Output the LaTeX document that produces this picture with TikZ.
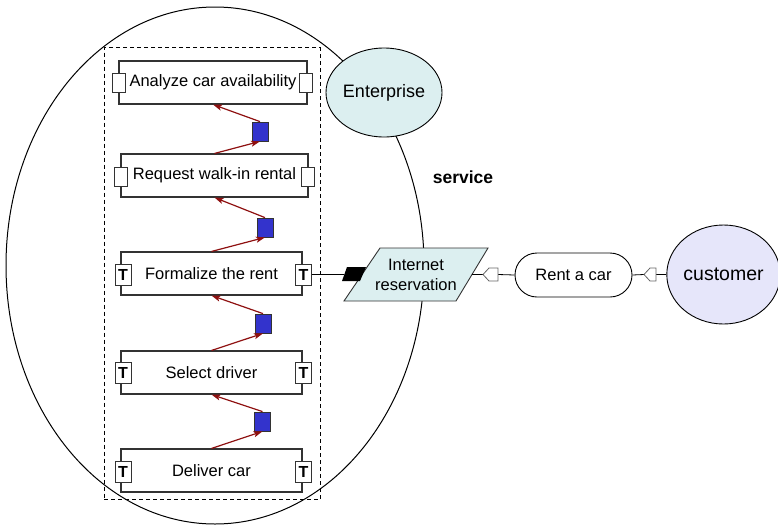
\documentclass[tikz,border=0pt]{standalone}
\usepackage{fontspec}
\setmainfont{Liberation Sans}
\usetikzlibrary{shapes.geometric,arrows.meta,calc}
\definecolor{arrowred}{HTML}{8E1010}
\definecolor{sqblue}{HTML}{3333CC}
\definecolor{lcyan}{HTML}{DCEFF0}
\definecolor{lav}{HTML}{E6E6FA}
\definecolor{edge}{HTML}{333333}
\tikzset{
  txt/.style={font=\fontsize{16.5}{19.5}\selectfont},
  actbox/.style={draw=edge, line width=1.1pt, fill=white, inner sep=0pt, txt},
  eport/.style={draw=edge, line width=0.9pt, fill=white, minimum width=13pt, minimum height=19pt, inner sep=0pt},
  tport/.style={draw=edge, line width=0.9pt, fill=white, minimum width=16pt, minimum height=21pt, inner sep=0pt, font=\fontsize{16}{16}\selectfont\bfseries},
  bsq/.style={draw=edge, line width=0.8pt, fill=sqblue, minimum width=16pt, minimum height=19pt, inner sep=0pt},
  flow/.style={draw=arrowred, line width=1.2pt, -{Stealth[length=9pt,width=6pt,inset=2pt]}},
  marker/.style={draw=gray!80!black, line width=0.8pt, fill=white},
  link/.style={draw=black, line width=0.8pt},
}
\begin{document}
\begin{tikzpicture}[x=1pt,y=-1pt]
\useasboundingbox (0,0) rectangle (778,525);
% big service ellipse
\node (svc) [ellipse, draw=black, line width=1pt, minimum width=418pt, minimum height=517pt, inner sep=0pt] at (215,265.5) {};
% group
\node (grp) [draw=black, line width=0.8pt, dash pattern=on 4pt off 3pt, minimum width=216pt, minimum height=452pt, inner sep=0pt] at (212,273.5) {};
% activity boxes
\node (A) [actbox, minimum width=188pt, minimum height=43pt] at (213,82.5) {Analyze car availability};
\node (R) [actbox, minimum width=187pt, minimum height=43pt] at (214.5,175.5) {Request walk-in rental};
\node (F) [actbox, minimum width=181pt, minimum height=43pt] at (211.5,273.5) {Formalize the rent};
\node (S) [actbox, minimum width=181pt, minimum height=43pt] at (211.5,372.5) {Select driver};
\node (D) [actbox, minimum width=181pt, minimum height=43pt] at (211.5,470.5) {Deliver car};
% ports
\node (Al) [eport] at (118.5,82.5) {};
\node (Ar) [eport] at (306,82.5) {};
\node (Rl) [eport] at (120.5,176.5) {};
\node (Rr) [eport] at (307.5,176.5) {};
\node (Fl) [tport] at (123,274.5) {T};
\node (Fr) [tport] at (303.5,274.5) {T};
\node (Sl) [tport] at (123,373) {T};
\node (Sr) [tport] at (303.5,373) {T};
\node (Dl) [tport] at (123,472) {T};
\node (Dr) [tport] at (303.5,472) {T};
% blue squares
\node (q1) [bsq] at (260,131.5) {};
\node (q2) [bsq] at (265,227.5) {};
\node (q3) [bsq] at (263,323.5) {};
\node (q4) [bsq] at (262.5,421.5) {};
% flows
\draw[flow] (R.north) -- (q1.south);
\draw[flow] (q1.north) -- (A.south);
\draw[flow] (F.north) -- (q2.south);
\draw[flow] (q2.north) -- (R.south);
\draw[flow] (S.north) -- (q3.south);
\draw[flow] (q3.north) -- (F.south);
\draw[flow] (D.north) -- (q4.south);
\draw[flow] (q4.north) -- (S.south);
% enterprise
\node (E) [ellipse, draw=black, line width=0.9pt, fill=lcyan, minimum width=98pt, minimum height=89pt, inner sep=0pt, font=\fontsize{18}{18}\selectfont] at (384,92.5) {Enterprise};
\node (svclabel) [font=\fontsize{17.5}{17.5}\selectfont\bfseries] at (463,177) {service};
% internet reservation parallelogram
\path[draw=edge, line width=0.9pt, fill=lcyan] (380,248) -- (488,248) -- (456,301) -- (344,301) -- cycle;
\node (IR) [txt, align=center, inner sep=0pt] at (416,275) {Internet\\reservation};
\coordinate (IRw) at (344,274.5);
\coordinate (IRe) at (472,274.5);
\path[fill=black] (342,281) -- (347,267) -- (366,267) -- (360,281) -- cycle;
\draw[link] (Fr.east) -- (IRw);
% rent a car
\node (RC) [draw=black, line width=0.9pt, fill=white, rounded corners=22pt, minimum width=117pt, minimum height=44pt, inner sep=0pt, txt] at (573.5,275) {Rent a car};
\node (C) [ellipse, draw=black, line width=0.9pt, fill=lav, minimum width=108pt, minimum height=99pt, inner sep=0pt, font=\fontsize{19.5}{19.5}\selectfont] at (723.5,274.5) {customer};
% markers
\coordinate (m1t) at (483,274.5);
\coordinate (m1r) at (498,274.5);
\coordinate (m2t) at (644,274.5);
\coordinate (m2r) at (656,274.5);
\draw[link] (IRe) -- (m1t);
\draw[link] (m1r) -- (RC.west);
\draw[link] (RC.east) -- (m2t);
\draw[link] (m2r) -- (C.west);
\path[marker] (m1t) -- ++(6,-6.5) -- ++(9,0) -- ++(0,13) -- ++(-9,0) -- cycle;
\path[marker] (m2t) -- ++(6,-6.5) -- ++(6,0) -- ++(0,13) -- ++(-6,0) -- cycle;
\end{tikzpicture}
\end{document}
